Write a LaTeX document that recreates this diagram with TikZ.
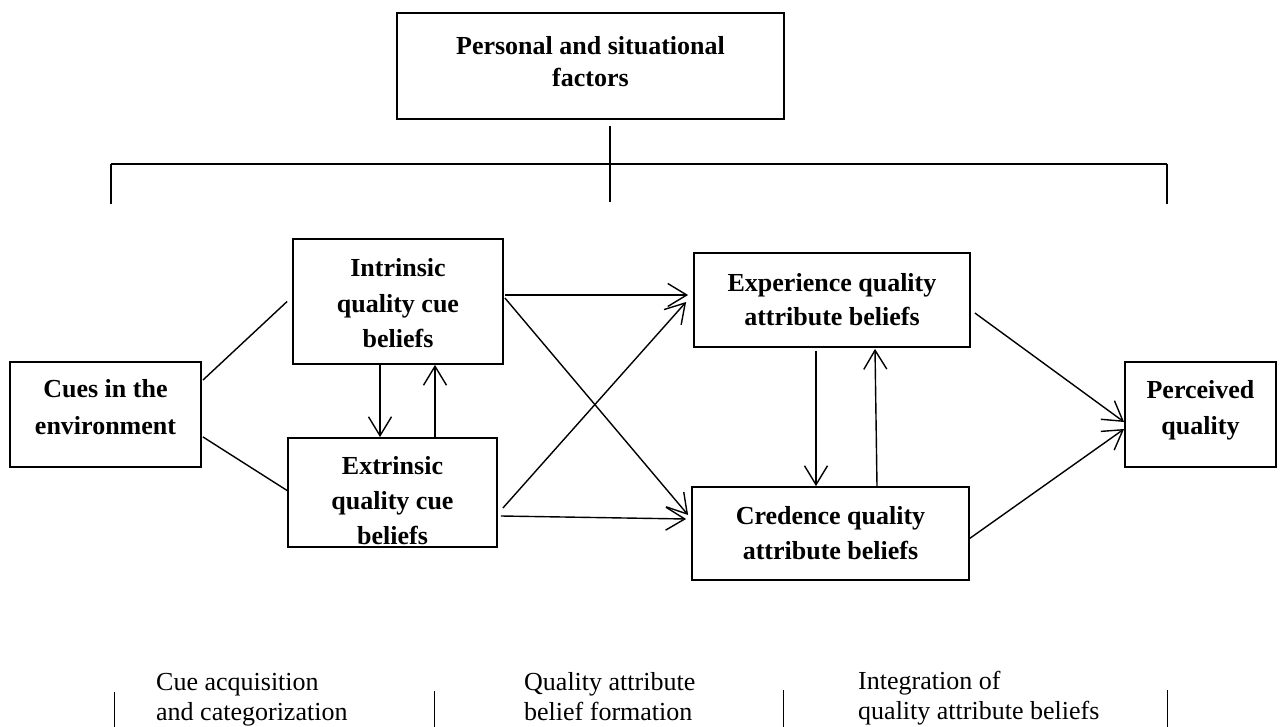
\documentclass[tikz,border=0pt]{standalone}
\usepackage{fontspec}
\setmainfont{Liberation Serif}
\usetikzlibrary{arrows.meta,calc}
\begin{document}
\begin{tikzpicture}[x=1pt,y=-1pt,
  box/.style={draw,line width=1.8pt,inner sep=0pt},
  btext/.style={inner sep=0pt,align=center,font=\fontsize{26}{#1}\selectfont\bfseries},
  btext/.default=35,
  conn/.style={line width=1.4pt},
  arr/.style={conn,-{Straight Barb[length=19pt,width=23pt,line width=1.4pt]}},
  stage/.style={anchor=base west,align=left,inner sep=0pt,font=\fontsize{26}{30}\selectfont},
  tick/.style={line width=1pt}]
\useasboundingbox (0,0) rectangle (1286,727);
% boxes
\node[box,minimum width=387pt,minimum height=106pt] (top) at (590.5,66) {};
\node[btext=32] (topt) at (590.5,62) {Personal and situational\\factors};
\node[box,minimum width=191pt,minimum height=105pt] (cues) at (105.5,414.5) {};
\node[btext=37] (cuest) at (105.5,407) {Cues in the\\environment};
\node[box,minimum width=210pt,minimum height=125pt] (intr) at (398,301.5) {};
\node[btext=35.5] (intrt) at (398,303.5) {Intrinsic\\quality cue\\beliefs};
\node[box,minimum width=209pt,minimum height=109pt] (extr) at (392.5,492.5) {};
\node[btext=35] (extrt) at (392.5,501) {Extrinsic\\quality cue\\beliefs};
\node[box,minimum width=276pt,minimum height=94pt] (exp) at (832,300) {};
\node[btext=34] (expt) at (832,300) {Experience quality\\attribute beliefs};
\node[box,minimum width=277pt,minimum height=93pt] (cred) at (830.5,533.5) {};
\node[btext=35] (credt) at (830.5,533.5) {Credence quality\\attribute beliefs};
\node[box,minimum width=151pt,minimum height=105pt] (perc) at (1200.5,414.5) {};
\node[btext=36] (perct) at (1200.5,410) {Perceived\\quality};
% bracket
\coordinate (vtop) at ($(top.south)+(19.5,6)$);
\coordinate (vbot) at (610,202);
\coordinate (bl) at (111,164);
\coordinate (br) at (1167,164);
\coordinate (blb) at (111,204);
\coordinate (brb) at (1167,204);
\draw[conn] (vtop) -- (vbot);
\draw[line width=2.6pt] (bl) -- (br);
\draw[conn] (bl) -- (blb);
\draw[conn] (br) -- (brb);
% connectors
\draw[conn] ($(cues.north east)+(1,19)$) -- ($(intr.west)+(-5,0)$);
\draw[conn] ($(cues.south east)+(1,-31)$) -- ($(extr.west)+(0,-2)$);
\draw[arr] ($(intr.south)+(-18,0)$) -- ($(extr.north)+(-12.5,0)$);
\draw[arr] ($(extr.north)+(42.5,0)$) -- ($(intr.south)+(37,0)$);
\draw[arr] ($(intr.east)+(1,-6.5)$) -- ($(exp.west)+(-5,-5)$);
\draw[arr] ($(intr.east)+(1,-3.5)$) -- ($(cred.west)+(-3,-18.5)$);
\draw[arr] ($(extr.east)+(5,15.5)$) -- ($(exp.west)+(-7,2)$);
\draw[arr] ($(extr.east)+(3,23.5)$) -- ($(cred.west)+(-5,-14.5)$);
\draw[arr] ($(exp.south)+(-16,3)$) -- ($(cred.north)+(-14.5,0)$);
\draw[arr] ($(cred.north)+(46.5,0)$) -- ($(exp.south)+(43,1)$);
\draw[arr] ($(exp.east)+(4,13)$) -- ($(perc.west)+(0,7.5)$);
\draw[arr] ($(cred.east)+(-1,5.5)$) -- ($(perc.west)+(0,14.5)$);
% stages
\node[stage] (s1) at (156,720) {Cue acquisition\\and categorization};
\node[stage] (s2) at (524,720) {Quality attribute\\belief formation};
\node[stage] (s3) at (858,719) {Integration of\\quality attribute beliefs};
\coordinate (t1a) at (114,692); \coordinate (t1b) at (114,727);
\coordinate (t2a) at (434,691); \coordinate (t2b) at (434,727);
\coordinate (t3a) at (783,690); \coordinate (t3b) at (783,727);
\coordinate (t4a) at (1167,690); \coordinate (t4b) at (1167,727);
\draw[tick] (t1a) -- (t1b);
\draw[tick] (t2a) -- (t2b);
\draw[tick] (t3a) -- (t3b);
\draw[tick] (t4a) -- (t4b);
\end{tikzpicture}
\end{document}
